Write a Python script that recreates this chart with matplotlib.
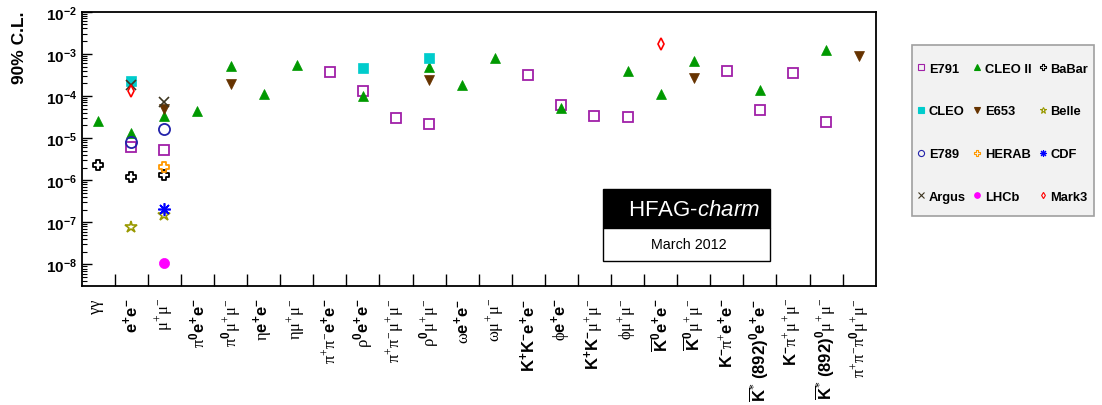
import numpy as np
import matplotlib
matplotlib.use('Agg')
import matplotlib.pyplot as plt
from matplotlib.path import Path
from matplotlib.lines import Line2D
from matplotlib.patches import Rectangle
from matplotlib.ticker import FixedLocator, FixedFormatter, NullFormatter, LogLocator

plt.rcParams['font.family'] = ['Liberation Sans', 'DejaVu Sans']
plt.rcParams['mathtext.fontset'] = 'custom'
plt.rcParams['mathtext.rm'] = 'Liberation Serif'
plt.rcParams['mathtext.it'] = 'Liberation Sans:italic'
plt.rcParams['mathtext.bf'] = 'Liberation Sans:bold'
plt.rcParams['mathtext.sf'] = 'Liberation Sans'

EE = r"\mathbf{e}^{\mathbf{+}}\mathbf{e}^{\mathbf{-}}"
MM = r"\mathrm{\mu}^{+}\mathrm{\mu}^{-}"

categories = [
    r"$\mathrm{\gamma\gamma}$",
    "$" + EE + "$",
    "$" + MM + "$",
    r"$\mathrm{\pi}^{\mathbf{0}}" + EE + "$",
    r"$\mathrm{\pi}^{\mathbf{0}}" + MM + "$",
    r"$\mathrm{\eta}" + EE + "$",
    r"$\mathrm{\eta}" + MM + "$",
    r"$\mathrm{\pi}^{+}\mathrm{\pi}^{-}" + EE + "$",
    r"$\mathrm{\rho}^{\mathbf{0}}" + EE + "$",
    r"$\mathrm{\pi}^{+}\mathrm{\pi}^{-}" + MM + "$",
    r"$\mathrm{\rho}^{\mathbf{0}}" + MM + "$",
    r"$\mathrm{\omega}" + EE + "$",
    r"$\mathrm{\omega}" + MM + "$",
    r"$\mathbf{K}^{\mathbf{+}}\mathbf{K}^{\mathbf{-}}" + EE + "$",
    r"$\mathrm{\phi}" + EE + "$",
    r"$\mathbf{K}^{\mathbf{+}}\mathbf{K}^{\mathbf{-}}" + MM + "$",
    r"$\mathrm{\phi}" + MM + "$",
    r"$\overline{\mathbf{K}}^{\mathbf{0}}" + EE + "$",
    r"$\overline{\mathbf{K}}^{\mathbf{0}}" + MM + "$",
    r"$\mathbf{K}^{\mathbf{-}}\mathrm{\pi}^{+}" + EE + "$",
    r"$\overline{\mathbf{K}}^{*}\ \mathbf{(892)}^{\mathbf{0}}" + EE + "$",
    r"$\mathbf{K}^{\mathbf{-}}\mathrm{\pi}^{+}" + MM + "$",
    r"$\overline{\mathbf{K}}^{*}\ \mathbf{(892)}^{\mathbf{0}}" + MM + "$",
    r"$\mathrm{\pi}^{+}\mathrm{\pi}^{-}\mathrm{\pi}^{\mathbf{0}}" + MM + "$",
]

# upper limits (90% C.L.) per experiment: category index, value
E791_x = [1, 2, 7, 8, 9, 10, 13, 14, 15, 16, 19, 20, 21, 22]
E791_y = [6.3e-6, 5.2e-6, 3.7e-4, 1.3e-4, 3.0e-5, 2.2e-5, 3.2e-4, 6.0e-5, 3.3e-5, 3.1e-5, 3.9e-4, 4.7e-5, 3.6e-4, 2.4e-5]
CLEOII_x = [0, 1, 2, 3, 4, 5, 6, 8, 10, 11, 12, 14, 16, 17, 18, 20, 22]
CLEOII_y = [2.5e-5, 1.3e-5, 3.4e-5, 4.5e-5, 5.2e-4, 1.1e-4, 5.3e-4, 1.0e-4, 4.8e-4, 1.8e-4, 8.0e-4, 5.2e-5, 4.0e-4, 1.1e-4, 6.7e-4, 1.4e-4, 1.2e-3]
BaBar_x = [0, 1, 2]
BaBar_y = [2.3e-6, 1.2e-6, 1.3e-6]
CLEO_x = [1, 8, 10]
CLEO_y = [2.3e-4, 4.5e-4, 8.1e-4]
E653_x = [2, 4, 10, 18, 23]
E653_y = [4.8e-5, 1.9e-4, 2.4e-4, 2.7e-4, 8.7e-4]
Belle_x = [1, 2]
Belle_y = [7.9e-8, 1.5e-7]
E789_x = [1, 2]
E789_y = [8.2e-6, 1.6e-5]
HERAB_x = [2]
HERAB_y = [2.1e-6]
CDF_x = [2]
CDF_y = [2.1e-7]
Argus_x = [1, 2]
Argus_y = [1.8e-4, 7.2e-5]
LHCb_x = [2]
LHCb_y = [1.1e-8]
Mark3_x = [1, 17]
Mark3_y = [1.3e-4, 1.7e-3]

ytick_vals = [1e-8, 1e-7, 1e-6, 1e-5, 1e-4, 1e-3, 1e-2]
ytick_labels = [r"$\mathbf{10}^{\mathbf{-%d}}$" % k for k in (8, 7, 6, 5, 4, 3, 2)]

a = 0.36
cross_path = Path([(-1, -a), (-a, -a), (-a, -1), (a, -1), (a, -a), (1, -a), (1, a),
                   (a, a), (a, 1), (-a, 1), (-a, a), (-1, a), (-1, -a)], closed=True)

W, H = 1102, 406
fig = plt.figure(figsize=(W / 100, H / 100), dpi=100)
ax = fig.add_axes([81.7 / W, 1 - 286.5 / H, (875.7 - 81.7) / W, (286.5 - 12.7) / H])

styles = [
    ("E791", E791_x, E791_y, dict(marker='s', mfc='none', mec='#a020a8', ms=7.3, mew=1.3)),
    ("CLEO II", CLEOII_x, CLEOII_y, dict(marker='^', mfc='#009900', mec='#009900', ms=7.2, mew=0.5)),
    ("BaBar", BaBar_x, BaBar_y, dict(marker=cross_path, mfc='none', mec='black', ms=7.3, mew=1.3)),
    ("CLEO", CLEO_x, CLEO_y, dict(marker='s', mfc='#00cccc', mec='#00cccc', ms=7.0, mew=0.5)),
    ("E653", E653_x, E653_y, dict(marker='v', mfc='#663300', mec='#663300', ms=7.2, mew=0.5)),
    ("Belle", Belle_x, Belle_y, dict(marker='*', mfc='none', mec='#999900', ms=9, mew=1.2)),
    ("E789", E789_x, E789_y, dict(marker='o', mfc='none', mec='#2222aa', ms=8, mew=1.3)),
    ("HERAB", HERAB_x, HERAB_y, dict(marker=cross_path, mfc='none', mec='#ff9900', ms=7.3, mew=1.3)),
    ("CDF", CDF_x, CDF_y, dict(marker=(8, 2, 0), mfc='#0000ff', mec='#0000ff', ms=9, mew=1.2)),
    ("Argus", Argus_x, Argus_y, dict(marker='x', mfc='none', mec='#3d3520', ms=7.5, mew=1.2)),
    ("LHCb", LHCb_x, LHCb_y, dict(marker='o', mfc='#ff00ff', mec='#ff00ff', ms=7.3, mew=0.5)),
    ("Mark3", Mark3_x, Mark3_y, dict(marker='d', mfc='none', mec='#ff0000', ms=5.8, mew=1.2)),
]

handles = {}
for name, xs, ys, st in styles:
    ax.plot(np.array(xs) + 0.5, ys, linestyle='none', clip_on=False, **st)
    hst = dict(st)
    hst['ms'] = st['ms'] * 0.55
    hst['mew'] = 0.8
    handles[name] = Line2D([], [], linestyle='none', **hst)

ax.set_yscale('log')
ax.set_ylim(10 ** -8.5, 1e-2)
ax.set_xlim(0, len(categories))

ax.yaxis.set_major_locator(FixedLocator(ytick_vals))
ax.yaxis.set_major_formatter(FixedFormatter(ytick_labels))
ax.yaxis.set_minor_locator(LogLocator(base=10, subs=np.arange(2, 10), numticks=30))
ax.yaxis.set_minor_formatter(NullFormatter())
ax.tick_params(axis='y', which='major', direction='in', length=7.5, width=1, labelsize=11, pad=3.5)
ax.tick_params(axis='y', which='minor', direction='in', length=3.8, width=0.8)

ax.set_xticks(np.arange(1, len(categories)))
ax.set_xticklabels([])
ax.set_xticks(np.arange(len(categories)) + 0.5, minor=True)
ax.set_xticklabels(categories, minor=True, rotation=90, fontsize=12)
ax.tick_params(axis='x', which='major', direction='in', length=8.5, width=1)
ax.tick_params(axis='x', which='minor', length=0, pad=8.5)

for sp in ax.spines.values():
    sp.set_linewidth(1.3)

fig.text(20 / W, 1 - 12 / H, "90% C.L.", rotation=90, ha='center', va='top',
         fontsize=12.5, fontweight='bold')

# legend box
fig.add_artist(Rectangle((911.7 / W, 1 - 216.7 / H), (1094 - 911.7) / W, (216.7 - 46) / H,
                         transform=fig.transFigure, facecolor='#f2f2f2', edgecolor='#a0a0a0', lw=1.2))
order = ["E791", "CLEO", "E789", "Argus", "CLEO II", "E653", "HERAB", "LHCb",
         "BaBar", "Belle", "CDF", "Mark3"]
fs = 9.3
fig.legend([handles[n] for n in order], order, ncol=3, loc='upper left',
           bbox_to_anchor=(915.8 / W, 1 - 63.5 / H), frameon=False, borderpad=0,
           borderaxespad=0, handlelength=0.8, handletextpad=0.22, columnspacing=0.45,
           labelspacing=2.38, handleheight=0.7,
           prop={'weight': 'bold', 'size': fs})

# HFAG box
fig.add_artist(Rectangle((603.3 / W, 1 - 229 / H), (770.3 - 603.3) / W, (229 - 190) / H,
                         transform=fig.transFigure, facecolor='black', edgecolor='black', lw=1))
fig.add_artist(Rectangle((603.3 / W, 1 - 261.7 / H), (770.3 - 603.3) / W, (261.7 - 229) / H,
                         transform=fig.transFigure, facecolor='white', edgecolor='black', lw=1))
fig.text(694.3 / W, 1 - 210.5 / H, r"HFAG-$\mathit{charm}$", color='white', fontsize=16,
         ha='center', va='center')
fig.text(689.3 / W, 1 - 245 / H, "March 2012", color='black', fontsize=10.3,
         ha='center', va='center')

fig.savefig('out.png', dpi=100)
